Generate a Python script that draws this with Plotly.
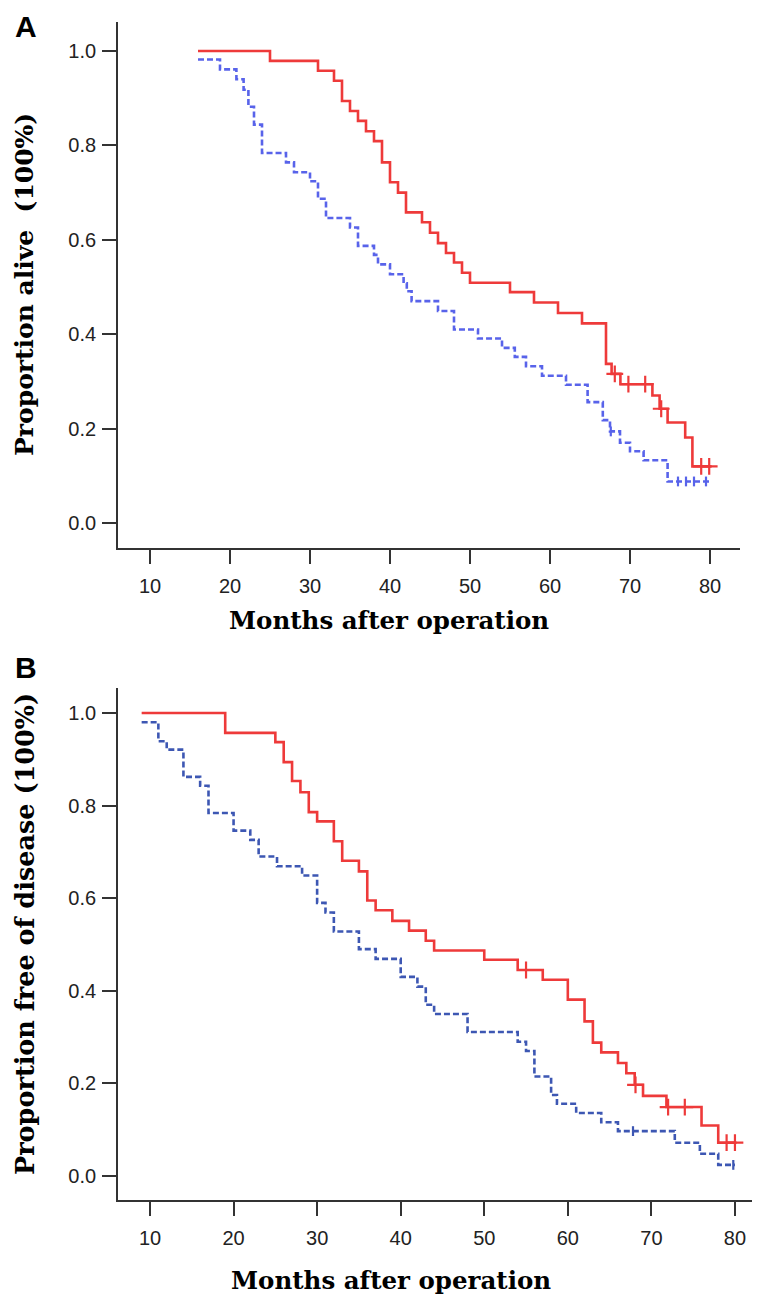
import plotly.graph_objects as go

# ---------------- DATA ----------------
# Panel A: overall survival (proportion alive)
a_red_t = [16, 25, 31, 33, 34, 35, 36, 37, 38, 39, 40, 41, 42, 44, 45, 46, 47, 48, 49, 50,
           55, 58, 61, 64, 67, 67.7, 68.8, 72.8, 73.7, 74.7, 76.9, 77.8, 80.2]
a_red_s = [1.0, 0.979, 0.958, 0.937, 0.894, 0.873, 0.852, 0.830, 0.809, 0.764, 0.722, 0.700,
           0.658, 0.637, 0.615, 0.593, 0.572, 0.552, 0.530, 0.509, 0.489, 0.467, 0.445, 0.423,
           0.337, 0.316, 0.294, 0.270, 0.242, 0.213, 0.181, 0.120, 0.120]
a_red_cens_t = [68.1, 69.8, 71.9, 73.9, 78.9, 79.9]
a_red_cens_s = [0.316, 0.294, 0.294, 0.242, 0.120, 0.120]

a_blue_t = [16, 18.75, 20.8, 21.7, 22.3, 23, 24, 27, 28, 30, 31, 32, 35, 36, 38, 38.5, 40,
            41.7, 42.1, 42.7, 46, 48, 51, 54, 55.6, 57, 59, 62, 64.7, 66.6, 67.5, 68.75, 70,
            71.7, 74.7, 80]
a_blue_s = [0.982, 0.961, 0.940, 0.918, 0.882, 0.844, 0.784, 0.764, 0.743, 0.724, 0.687,
            0.646, 0.626, 0.587, 0.568, 0.548, 0.527, 0.508, 0.491, 0.470, 0.449, 0.410,
            0.391, 0.371, 0.352, 0.332, 0.312, 0.293, 0.256, 0.218, 0.194, 0.170, 0.152,
            0.133, 0.088, 0.088]
a_blue_cens_t = [67.6, 76, 77, 78, 79.5]
a_blue_cens_s = [0.194, 0.088, 0.088, 0.088, 0.088]

# Panel B: disease-free survival
b_red_t = [9, 19, 25, 26, 27, 28, 29, 30, 32, 33, 35, 36, 37, 39, 41, 43, 44, 50, 54, 57,
           60, 62, 63, 64, 66, 67, 68, 69, 71.8, 76, 78, 80.2]
b_red_s = [1.0, 0.957, 0.937, 0.894, 0.853, 0.829, 0.786, 0.766, 0.723, 0.681, 0.658, 0.595,
           0.574, 0.551, 0.530, 0.508, 0.487, 0.467, 0.445, 0.424, 0.381, 0.334, 0.288,
           0.267, 0.244, 0.222, 0.197, 0.173, 0.149, 0.109, 0.072, 0.072]
b_red_cens_t = [55, 68.1, 72, 74, 79, 80]
b_red_cens_s = [0.445, 0.197, 0.149, 0.149, 0.072, 0.072]

b_blue_t = [9, 11, 12, 14, 16, 17, 20, 22, 23, 25.2, 28.2, 30, 31, 32, 35, 37, 40, 42, 43,
            44, 48, 54, 55, 56, 58, 58.7, 61, 64, 66, 72.8, 75.8, 78, 80]
b_blue_s = [0.980, 0.939, 0.921, 0.862, 0.843, 0.784, 0.746, 0.726, 0.690, 0.669, 0.649,
            0.590, 0.569, 0.528, 0.490, 0.469, 0.430, 0.409, 0.370, 0.350, 0.311, 0.290,
            0.270, 0.215, 0.175, 0.156, 0.136, 0.116, 0.097, 0.072, 0.048, 0.024, 0.024]
b_blue_cens_t = [67.8, 79.8]
b_blue_cens_s = [0.097, 0.024]

x_ticks = [10, 20, 30, 40, 50, 60, 70, 80]
y_ticks = [0.0, 0.2, 0.4, 0.6, 0.8, 1.0]
y_ticklabels = ["0.0", "0.2", "0.4", "0.6", "0.8", "1.0"]

title_x = "Months after operation"
title_ya = "Proportion alive  (100%)"
title_yb = "Proportion free of disease (100%)"

# ---------------- STYLE / LAYOUT ----------------
OFF = 8  # page body margin offset
W, H = 774 - OFF, 1302 - OFF
ML, MT = 118 - OFF, 22 - OFF
MR = W - (752 - OFF)
MB = H - (1200 - OFF)
PW, PH = W - ML - MR, H - MT - MB

def px(x):  # page pixel -> paper
    return (x - OFF - ML) / PW

def py(y):
    return (H - MB - (y - OFF)) / PH

RED = "#EE3A3A"
BLUE_A = "#5863EA"
BLUE_B = "#3D57B3"
AX = "#333333"

fig = go.Figure()

def add_curve(t, s, color, dash, xa, ya):
    fig.add_trace(go.Scatter(x=t, y=s, mode="lines", line_shape="hv",
                             line=dict(color=color, width=2.6, dash=dash),
                             xaxis=xa, yaxis=ya, showlegend=False, hoverinfo="skip"))

def add_cens(t, s, color, symbol, size, xa, ya):
    fig.add_trace(go.Scatter(x=t, y=s, mode="markers",
                             marker=dict(symbol=symbol, size=size, color=color,
                                         line=dict(color=color, width=2.2)),
                             xaxis=xa, yaxis=ya, showlegend=False, hoverinfo="skip"))

add_curve(a_blue_t, a_blue_s, BLUE_A, "6px,3px", "x", "y")
add_curve(a_red_t, a_red_s, RED, "solid", "x", "y")
add_cens(a_red_cens_t, a_red_cens_s, RED, "cross-thin", 12, "x", "y")
add_cens(a_blue_cens_t, a_blue_cens_s, BLUE_A, "line-ns", 7, "x", "y")

add_curve(b_blue_t, b_blue_s, BLUE_B, "6px,3px", "x2", "y2")
add_curve(b_red_t, b_red_s, RED, "solid", "x2", "y2")
add_cens(b_red_cens_t, b_red_cens_s, RED, "cross-thin", 12, "x2", "y2")
add_cens(b_blue_cens_t, b_blue_cens_s, BLUE_B, "line-ns", 7, "x2", "y2")

tickfont = dict(family="Liberation Sans, Arial, sans-serif", size=20, color="#222222")
common = dict(showline=True, linecolor=AX, linewidth=1.8, ticks="outside", ticklen=14,
              tickwidth=1.6, tickcolor=AX, showgrid=False, zeroline=False,
              tickfont=tickfont, fixedrange=True)

fig.update_layout(
    width=W, height=H,
    margin=dict(l=ML, r=MR, t=MT, b=MB, autoexpand=False),
    paper_bgcolor="white", plot_bgcolor="white",
    xaxis=dict(domain=[0, px(740)], range=[6, 83.75], tickvals=x_ticks,
               anchor="y", ticklabelstandoff=5, **common),
    yaxis=dict(domain=[py(548), 1], range=[-0.053, 1.0614], tickvals=y_ticks,
               ticktext=y_ticklabels, anchor="x", ticklabelstandoff=2, **common),
    xaxis2=dict(domain=[0, 1], range=[6.17, 82.04], tickvals=x_ticks,
                anchor="y2", ticklabelstandoff=5, **common),
    yaxis2=dict(domain=[0, py(688)], range=[-0.0518, 1.054], tickvals=y_ticks,
                ticktext=y_ticklabels, anchor="x2", ticklabelstandoff=2, **common),
)

serif_b = "DejaVu Serif"
anns = [
    dict(text="<b>A</b>", x=px(26), y=py(8), yanchor="top",
         font=dict(family="Liberation Sans, Arial", size=30, color="black")),
    dict(text="<b>B</b>", x=px(26), y=py(667), yanchor="middle",
         font=dict(family="Liberation Sans, Arial", size=30, color="black")),
    dict(text="<b>" + title_x + "</b>", x=px(389), y=py(620), yanchor="middle",
         font=dict(family=serif_b, size=24.5, color="black")),
    dict(text="<b>" + title_x + "</b>", x=px(391), y=py(1280), yanchor="middle",
         font=dict(family=serif_b, size=24.5, color="black")),
    dict(text="<b>" + title_ya.replace("  ", "&nbsp; ") + "</b>", x=px(24), y=py(285),
         yanchor="middle", textangle=-90, font=dict(family=serif_b, size=25, color="black")),
    dict(text="<b>" + title_yb + "</b>", x=px(25), y=py(934), yanchor="middle",
         textangle=-90, font=dict(family=serif_b, size=25.5, color="black")),
]
for a in anns:
    a.update(xref="paper", yref="paper", showarrow=False, xanchor="center")
fig.update_layout(annotations=anns)

fig.write_html("out.html")
